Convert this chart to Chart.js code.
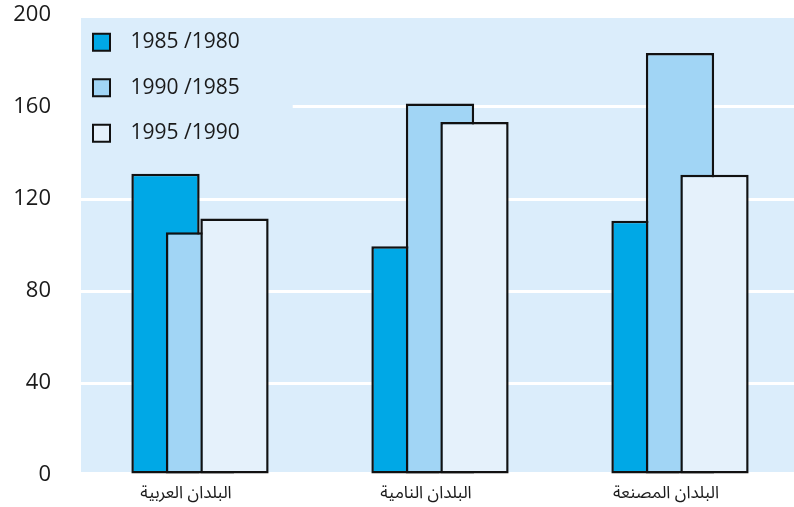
<!DOCTYPE html>
<html>
<head>
<meta charset="utf-8">
<script src="https://cdn.jsdelivr.net/npm/chart.js@4/dist/chart.umd.min.js"></script>
<style>
  html, body { margin: 0; padding: 0; background: #ffffff; }
  #wrap { width: 794px; height: 507px; position: relative; }
</style>
</head>
<body>
<div id="wrap"><canvas id="c" width="794" height="507"></canvas></div>
<script>
// ---- data ----
const categories = ['البلدان العربية', 'البلدان النامية', 'البلدان المصنعة'];
const seriesLabels = ['1985 /1980', '1990 /1985', '1995 /1990'];
const series1985_1980 = [131, 99.5, 110.5];
const series1990_1985 = [105.5, 161.5, 183.5];
const series1995_1990 = [111.5, 153.5, 130.5];
const yTicks = [0, 40, 80, 120, 160, 200];

// ---- styles ----
const PLOT_BG = '#dbedfb';
const TEXT = '#1a1a1a';
const colors = ['#00a8e6', '#a1d5f5', '#e5f1fb'];

const allSeries = [series1985_1980, series1990_1985, series1995_1990];
const datasets = allSeries.map((vals, k) => ({
  label: seriesLabels[k],
  data: vals.map((v, i) => ({ x: i, y: v })),
  backgroundColor: colors[k],
  borderColor: '#111111',
  borderWidth: 2.5,
  borderSkipped: false,
  barPercentage: 1.98,
  categoryPercentage: 0.43125
}));

const plotBackground = {
  id: 'plotBackground',
  beforeDraw(chart) {
    const { ctx, chartArea: ca } = chart;
    ctx.save();
    ctx.fillStyle = PLOT_BG;
    ctx.fillRect(ca.left + 1, ca.top + 3, chart.width - ca.left - 1, ca.bottom - ca.top - 6);
    ctx.restore();
  }
};

const legendPlacer = {
  id: 'legendPlacer',
  afterLayout(chart) {
    const lg = chart.legend, ca = chart.chartArea;
    if (!lg) return;
    lg.left = ca.left;
    lg.top = ca.top + 3.7;
    lg.right = lg.left + lg.width;
    lg.bottom = lg.top + lg.height;
  }
};

const layering = {
  id: 'layering',
  beforeDatasetsDraw(chart) {
    const { ctx, chartArea: ca } = chart;
    const lg = chart.legend;
    const ys = chart.scales.y;
    // legend sits on a plain plot-coloured panel that hides the grid line behind it
    const yTop = ys.getPixelForValue(200) + 3;
    const yBot = ys.getPixelForValue(140);
    ctx.save();
    ctx.fillStyle = PLOT_BG;
    ctx.fillRect(ca.left + 1, yTop, lg.right + 52 - ca.left, yBot - yTop);
    ctx.restore();
    lg.draw();
    // later series are drawn over earlier ones
    for (let i = 0; i < chart.data.datasets.length; i++) {
      if (chart.isDatasetVisible(i)) chart.getDatasetMeta(i).controller.draw();
    }
    return false;
  }
};

new Chart(document.getElementById('c'), {
  type: 'bar',
  data: { datasets },
  options: {
    responsive: false,
    animation: false,
    devicePixelRatio: 1,
    layout: { padding: { top: 15, left: 0, right: 0, bottom: 0 } },
    plugins: {
      tooltip: { enabled: false },
      legend: {
        position: 'chartArea',
        align: 'start',
        labels: {
          boxWidth: 17,
          boxHeight: 17,
          padding: 13,
          textAlign: 'right',
          color: TEXT,
          font: { family: "'Open Sans', 'Noto Sans', sans-serif", size: 21, lineHeight: 1.55 },
          generateLabels(chart) {
            const items = Chart.defaults.plugins.legend.labels.generateLabels(chart);
            items.forEach(it => { it.text = [it.text]; it.lineWidth = 2; });
            return items;
          }
        }
      }
    },
    scales: {
      x: {
        type: 'linear',
        offset: false,
        min: -0.5,
        max: 2.475,
        grid: { display: false, drawTicks: false, offset: false },
        border: { display: false },
        afterBuildTicks(scale) { scale.ticks = categories.map((c, i) => ({ value: i })); },
        afterFit(scale) { scale.height = 32; scale.paddingLeft = 0; scale.paddingRight = 0; },
        ticks: {
          autoSkip: false,
          maxRotation: 0,
          padding: 10,
          labelOffset: -14,
          color: TEXT,
          font: { family: "'Noto Sans Arabic', 'DejaVu Sans', sans-serif", size: 17 },
          callback: (v) => categories[v]
        }
      },
      y: {
        min: 0,
        max: 200,
        afterBuildTicks(scale) { scale.ticks = yTicks.map(v => ({ value: v })); },
        afterFit(scale) { scale.width = 80; scale.paddingTop = 0; scale.paddingBottom = 0; },
        border: { display: false },
        grid: {
          drawTicks: false,
          lineWidth: 3,
          color: (c) => (c.tick && (c.tick.value === 0 || c.tick.value === 200)) ? 'rgba(0,0,0,0)' : '#ffffff'
        },
        ticks: {
          padding: 29,
          color: TEXT,
          font: { family: "'Open Sans', 'Noto Sans', sans-serif", size: 22 }
        }
      }
    }
  },
  plugins: [plotBackground, legendPlacer, layering]
});
</script>
</body>
</html>
